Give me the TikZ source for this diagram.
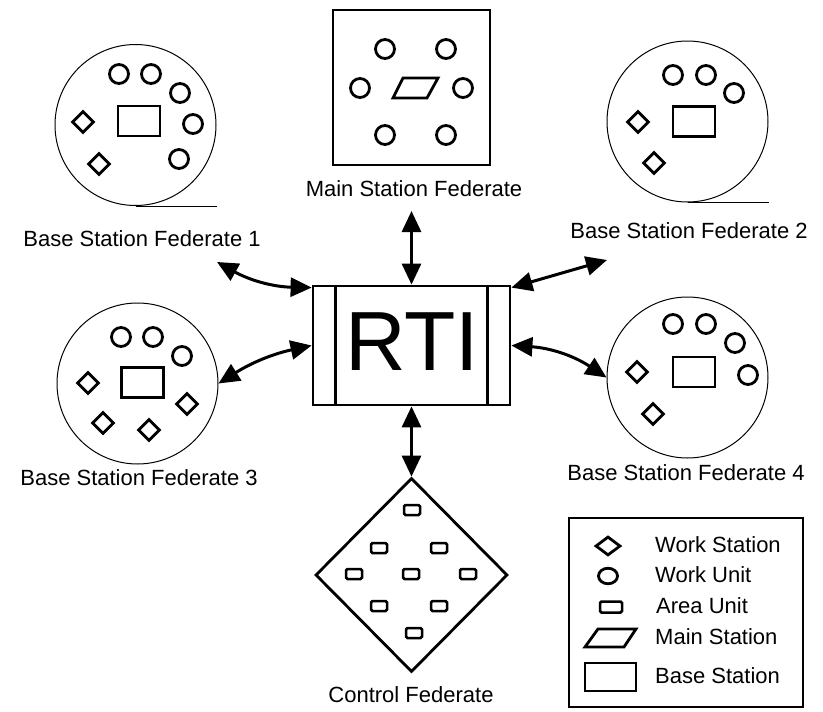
\documentclass[tikz,border=0pt]{standalone}
\usepackage{fontspec}
\setmainfont{Liberation Sans}
\usetikzlibrary{arrows.meta,shapes.geometric}
\begin{document}
\begin{tikzpicture}[x=1pt,y=-1pt,
  lbl/.style={font=\fontsize{22}{26}\selectfont,inner sep=0pt},
  fedcirc/.style={circle,draw,line width=1pt,minimum size=161pt,inner sep=0pt},
  wunit/.style={circle,draw,line width=2.8pt,minimum size=19pt,inner sep=0pt},
  wstation/.style={diamond,draw,line width=2.8pt,minimum width=22pt,minimum height=22pt,inner sep=0pt},
  bstation/.style={rectangle,draw,line width=2.8pt,minimum width=42pt,minimum height=30pt,inner sep=0pt},
  aunit/.style={rectangle,rounded corners=1.5pt,draw,line width=2.5pt,minimum width=16pt,minimum height=10pt,inner sep=0pt},
  thickbox/.style={rectangle,draw,line width=2.8pt,inner sep=0pt},
  biarrow/.style={line width=3pt,{Triangle[length=21pt,width=19pt]}-{Triangle[length=21pt,width=19pt]}},
  shapeline/.style={line width=2.8pt,line join=miter}
]
\useasboundingbox (0,0) rectangle (823,712);

% ---------- Base Station Federate 1 ----------
\node[fedcirc] (bs1) at (135.5,125) {};
\draw[line width=1pt] (bs1.south) -- ++(81,0);
\node[wunit] (bs1u1) at (119,74) {};
\node[wunit] (bs1u2) at (151,74) {};
\node[wunit] (bs1u3) at (180,93) {};
\node[wunit] (bs1u4) at (193,124) {};
\node[wunit] (bs1u5) at (179,159) {};
\node[bstation] (bs1b) at (139,121) {};
\node[wstation] (bs1w1) at (83,122) {};
\node[wstation] (bs1w2) at (99,164) {};
\node[lbl] (bs1l) at (142,239) {Base Station Federate 1};

% ---------- Base Station Federate 2 ----------
\node[fedcirc] (bs2) at (687.5,121.5) {};
\draw[line width=1pt] (bs2.south) -- ++(81,0);
\node[wunit] (bs2u1) at (673,75) {};
\node[wunit] (bs2u2) at (706,75) {};
\node[wunit] (bs2u3) at (734,93) {};
\node[bstation] (bs2b) at (694,121.5) {};
\node[wstation] (bs2w1) at (638,122) {};
\node[wstation] (bs2w2) at (654,163) {};
\node[lbl] (bs2l) at (689,231) {Base Station Federate 2};

% ---------- Base Station Federate 3 ----------
\node[fedcirc] (bs3) at (137.5,383.5) {};
\node[wunit] (bs3u1) at (121,337) {};
\node[wunit] (bs3u2) at (153,337) {};
\node[wunit] (bs3u3) at (182,356) {};
\node[bstation] (bs3b) at (142.5,382.5) {};
\node[wstation] (bs3w1) at (88,383) {};
\node[wstation] (bs3w2) at (103,423) {};
\node[wstation] (bs3w3) at (149,430) {};
\node[wstation] (bs3w4) at (187,404) {};
\node[lbl] (bs3l) at (139,478) {Base Station Federate 3};

% ---------- Base Station Federate 4 ----------
\node[fedcirc] (bs4) at (687.5,377.5) {};
\node[wunit] (bs4u1) at (673,324) {};
\node[wunit] (bs4u2) at (706,324) {};
\node[wunit] (bs4u3) at (735,343) {};
\node[wunit] (bs4u4) at (748,375) {};
\node[bstation] (bs4b) at (694,372) {};
\node[wstation] (bs4w1) at (637,372) {};
\node[wstation] (bs4w2) at (653,414) {};
\node[lbl] (bs4l) at (686,473) {Base Station Federate 4};

% ---------- Main Station Federate ----------
\node[thickbox,minimum width=157pt,minimum height=155pt] (main) at (411.5,87.5) {};
\node[wunit] (mu1) at (385,49) {};
\node[wunit] (mu2) at (446,49) {};
\node[wunit] (mu3) at (360,88) {};
\node[wunit] (mu4) at (463,88) {};
\node[wunit] (mu5) at (385,135) {};
\node[wunit] (mu6) at (446,135) {};
\draw[shapeline] (393,98) -- (403,78) -- (438,78) -- (427,98) -- cycle;
\node[lbl] (mainl) at (414,189) {Main Station Federate};

% ---------- RTI ----------
\node[thickbox,minimum width=197pt,minimum height=119pt] (rti) at (411.5,345.5) {};
\draw[line width=2.8pt] ([xshift=24pt]rti.north west) -- ([xshift=24pt]rti.south west);
\draw[line width=2.8pt] ([xshift=-24pt]rti.north east) -- ([xshift=-24pt]rti.south east);
\node[font=\fontsize{84}{90}\selectfont,inner sep=0pt] (rtitext) at (412,342) {RTI};

% ---------- Control Federate ----------
\node[diamond,draw,line width=2.8pt,minimum width=192pt,minimum height=194pt,inner sep=0pt] (ctrl) at (411.5,575) {};
\node[aunit] (a1) at (412,510) {};
\node[aunit] (a2) at (379,548) {};
\node[aunit] (a3) at (439,548) {};
\node[aunit] (a4) at (354,574) {};
\node[aunit] (a5) at (411,574) {};
\node[aunit] (a6) at (468,574) {};
\node[aunit] (a7) at (379,606) {};
\node[aunit] (a8) at (439,606) {};
\node[aunit] (a9) at (414,633) {};
\node[lbl] (ctrll) at (411,695) {Control Federate};

% ---------- connectors ----------
\coordinate (mtop) at (411.5,211);
\coordinate (b1end) at (217,262);
\coordinate (b2end) at (607,260);
\draw[biarrow] (mtop) -- (rti.north);
\draw[biarrow] (rti.south) -- (ctrl.north);
\draw[biarrow] (b1end) to[bend right=14] ([yshift=-3pt]rti.north west);
\draw[biarrow] ([yshift=-3pt]rti.north east) -- (b2end);
\draw[biarrow] (bs3.east) to[bend left=10] (rti.west);
\draw[biarrow] (rti.east) to[bend left=15] (bs4.west);

% ---------- Legend ----------
\node[rectangle,draw,line width=2pt,minimum width=234pt,minimum height=189pt,inner sep=0pt] (legend) at (685.5,612) {};
\node[diamond,draw,line width=2.8pt,minimum width=25pt,minimum height=19pt,inner sep=0pt] (lgws) at (608,546) {};
\node[ellipse,draw,line width=2.8pt,minimum width=19pt,minimum height=15.5pt,inner sep=0pt] (lgwu) at (608,576) {};
\node[aunit,minimum width=22pt,minimum height=11pt] (lgau) at (611,607) {};
\draw[shapeline] (585,647) -- (598,629) -- (636,629) -- (624,647) -- cycle;
\node[bstation,minimum width=51pt,minimum height=28pt] (lgbs) at (610.5,677) {};
\node[lbl,anchor=west] (t1) at (655,545) {Work Station};
\node[lbl,anchor=west] (t2) at (655,575) {Work Unit};
\node[lbl,anchor=west] (t3) at (656,606) {Area Unit};
\node[lbl,anchor=west] (t4) at (655,637) {Main Station};
\node[lbl,anchor=west] (t5) at (655,676) {Base Station};
\end{tikzpicture}
\end{document}
